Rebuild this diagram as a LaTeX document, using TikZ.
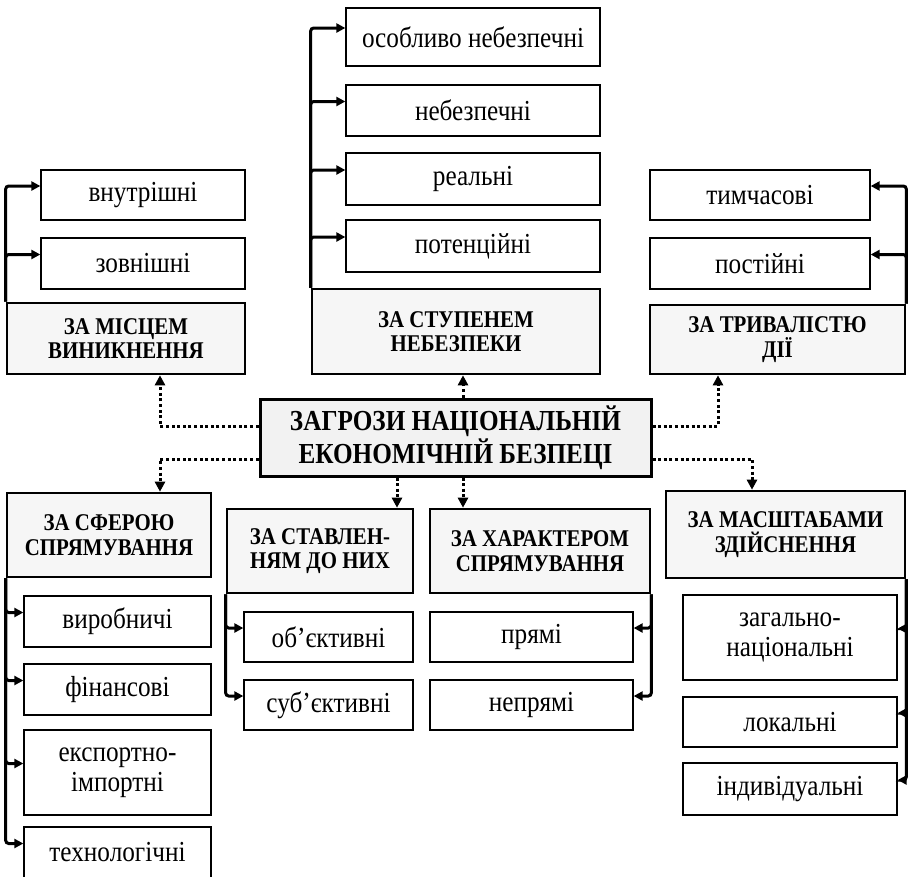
\documentclass[tikz,border=0pt]{standalone}
\usepackage{fontspec}
\setmainfont{Liberation Serif}
\newfontfamily\diagfont{Liberation Serif}[FakeStretch=0.87]
\newfontfamily\diagbold{Liberation Serif Bold}[FakeStretch=0.87]
\usetikzlibrary{arrows.meta}

\begin{document}
\begin{tikzpicture}[x=1pt, y=-1pt,
            sub/.style={draw, rectangle, line width=1.3pt, align=center, inner sep=0pt, font=\diagfont\fontsize{29}{30}\selectfont},
            head/.style={draw, rectangle, line width=2.6pt, fill=gray!7, align=center, inner sep=0pt, font=\diagbold\fontsize{24}{24.5}\selectfont},
            tree/.style={line width=3pt, rounded corners=3pt, -{Triangle[length=9pt,width=9pt]}},
            dotline/.style={line width=3pt, dash pattern=on 3pt off 2.6pt, -{Triangle[length=10pt,width=10pt]}}
        ]
            \useasboundingbox (0,0) rectangle (908,876);

            % centre
            \node (zahrozy) [head, line width=3pt, fill=gray!10, minimum width=391pt, minimum height=77pt, font=\diagbold\fontsize{29}{33}\selectfont] at (455.5,437.5) {ЗАГРОЗИ НАЦІОНАЛЬНІЙ\\ЕКОНОМІЧНІЙ БЕЗПЕЦІ};

            % upper groups
            \node (mistse) [head, minimum width=238pt, minimum height=71pt] at (126,338.5) {ЗА МІСЦЕМ\\ВИНИКНЕННЯ};
            \node (vnutr) [sub, minimum width=204pt, minimum height=50pt] at (143,195) {внутрішні};
            \node (zovn) [sub, minimum width=204pt, minimum height=51pt] at (143,263.5) {зовнішні};

            \node (stupin) [head, minimum width=288pt, minimum height=85pt] at (456,331.5) {ЗА СТУПЕНЕМ\\НЕБЕЗПЕКИ};
            \node (osobl) [sub, minimum width=254pt, minimum height=58pt] at (473,37) {особливо небезпечні};
            \node (nebez) [sub, minimum width=254pt, minimum height=51pt] at (473,110.5) {небезпечні};
            \node (real) [sub, minimum width=254pt, minimum height=52pt] at (473,179) {реальні};
            \node (potenc) [sub, minimum width=254pt, minimum height=52pt] at (473,246) {потенційні};

            \node (tryval) [head, minimum width=255pt, minimum height=69pt] at (777.5,339.5) {ЗА ТРИВАЛІСТЮ\\ДІЇ};
            \node (tymch) [sub, minimum width=220pt, minimum height=50pt] at (760,195) {тимчасові};
            \node (postiy) [sub, minimum width=220pt, minimum height=51pt] at (760,263.5) {постійні};

            % lower groups
            \node (sfera) [head, minimum width=204pt, minimum height=84pt] at (109,535) {ЗА СФЕРОЮ\\СПРЯМУВАННЯ};
            \node (vyrob) [sub, minimum width=187pt, minimum height=51pt] at (117.5,621.5) {виробничі};
            \node (finans) [sub, minimum width=187pt, minimum height=51pt] at (117.5,689.5) {фінансові};
            \node (eksport) [sub, minimum width=187pt, minimum height=85pt] at (117.5,772.5) {експортно-\\імпортні};
            \node (tekhn) [sub, minimum width=187pt, minimum height=51pt] at (117.5,852.5) {технологічні};

            \node (stavl) [head, minimum width=186pt, minimum height=84pt] at (320,551) {ЗА СТАВЛЕН-\\НЯМ ДО НИХ};
            \node (obyekt) [sub, minimum width=169pt, minimum height=50pt] at (328.5,637) {об’єктивні};
            \node (subyekt) [sub, minimum width=169pt, minimum height=50pt] at (328.5,705) {суб’єктивні};

            \node (kharakt) [head, minimum width=220pt, minimum height=84pt] at (540,551) {ЗА ХАРАКТЕРОМ\\СПРЯМУВАННЯ};
            \node (pryami) [sub, minimum width=203pt, minimum height=50pt] at (531.5,637) {прямі};
            \node (nepryami) [sub, minimum width=203pt, minimum height=50pt] at (531.5,705) {непрямі};

            \node (masht) [head, minimum width=239pt, minimum height=87pt] at (785.5,534.5) {ЗА МАСШТАБАМИ\\ЗДІЙСНЕННЯ};
            \node (zahalno) [sub, minimum width=214pt, minimum height=85pt] at (790,637.5) {загально-\\національні};
            \node (lokal) [sub, minimum width=214pt, minimum height=50pt] at (790,722) {локальні};
            \node (indyv) [sub, minimum width=214pt, minimum height=52pt] at (790,789) {індивідуальні};

            % dotted links from the centre
            \draw [dotline] ([yshift=11.5pt]zahrozy.west) -| ([xshift=34pt]mistse.south);
            \draw [dotline] ([xshift=7.5pt]zahrozy.north) -- ([xshift=7pt]stupin.south);
            \draw [dotline] ([yshift=11.5pt]zahrozy.east) -| ([xshift=-59.5pt]tryval.south);
            \draw [dotline] ([yshift=-21.5pt]zahrozy.west) -| ([xshift=51pt]sfera.north);
            \draw [dotline] ([xshift=-58.5pt]zahrozy.south) -- ([xshift=77pt]stavl.north);
            \draw [dotline] ([xshift=7.5pt]zahrozy.south) -- ([xshift=-77pt]kharakt.north);
            \draw [dotline] ([yshift=-21.5pt]zahrozy.east) -| ([xshift=-33.5pt]masht.north);

            % branches
            \foreach \n in {vnutr,zovn}
                \draw [tree] (mistse.north west) |- ([yshift=9pt]\n.west);
            \foreach \n in {osobl,nebez,real,potenc}
                \draw [tree] (stupin.north west) |- ([yshift=9pt]\n.west);
            \foreach \n in {tymch,postiy}
                \draw [tree] (tryval.north east) |- ([yshift=9pt]\n.east);
            \foreach \n in {vyrob,finans,eksport,tekhn}
                \draw [tree] (sfera.south west) |- ([yshift=9pt]\n.west);
            \foreach \n in {obyekt,subyekt}
                \draw [tree] (stavl.south west) |- ([yshift=9pt]\n.west);
            \foreach \n in {pryami,nepryami}
                \draw [tree] (kharakt.south east) |- ([yshift=9pt]\n.east);
            \foreach \n in {zahalno,lokal,indyv}
                \draw [tree] (masht.south east) |- ([yshift=9pt]\n.east);
        \end{tikzpicture}
\end{document}
